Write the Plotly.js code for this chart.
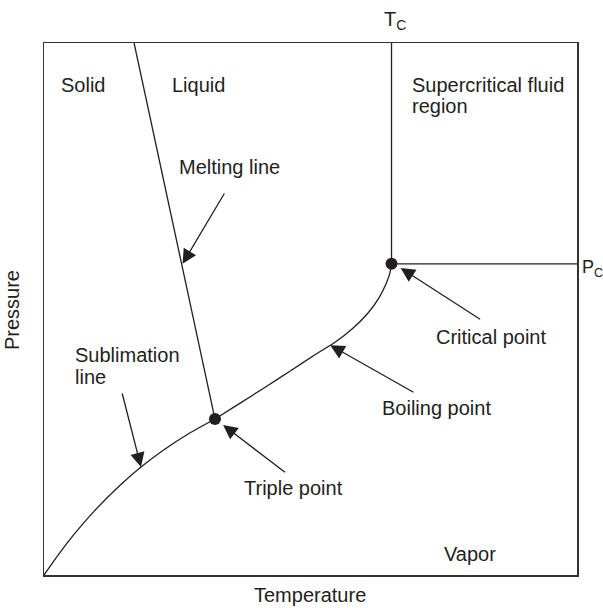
<!DOCTYPE html>
<html>
<head>
<meta charset="utf-8">
<script src="https://cdn.plot.ly/plotly-3.0.1.min.js"></script>
<style>html,body{margin:0;padding:0;background:#fff;}#chart{width:603px;height:608px;}</style>
</head>
<body>
<div id="chart"></div>
<script>
// Phase diagram values (arbitrary units, 0-100 on each axis)
var sublimationT = [0, 2.81, 5.63, 9.38, 14.07, 18.2, 22.51, 27.2, 32.08];
var sublimationP = [0, 3.98, 7.63, 11.97, 16.69, 20.3, 23.55, 26.6, 29.32];
var boilingT = [32.08, 36.8, 41.5, 46.2, 50.84, 54.6, 57.9, 60.79, 62.9, 64.2, 64.9, 65.2];
var boilingP = [29.32, 32.30, 35.30, 38.35, 41.40, 43.75, 46.35, 49.25, 52.2, 54.8, 56.8, 58.5];
var meltingT = [16.9, 32.08];
var meltingP = [100, 29.32];
var triplePoint = [32.08, 29.32];
var criticalPoint = [65.2, 58.5];
var axisMax = 100;

var FONT = 'Liberation Sans, Arial, Helvetica, sans-serif';
var ink = '#231f20';
var lineStyle = {color: ink, width: 1.3};

var traces = [
  {x: sublimationT, y: sublimationP, mode: 'lines', line: Object.assign({shape: 'spline', smoothing: 0.6}, lineStyle), hoverinfo: 'skip'},
  {x: boilingT, y: boilingP, mode: 'lines', line: Object.assign({shape: 'spline', smoothing: 0.4}, lineStyle), hoverinfo: 'skip'},
  {x: meltingT, y: meltingP, mode: 'lines', line: lineStyle, hoverinfo: 'skip'},
  {x: [criticalPoint[0], criticalPoint[0]], y: [criticalPoint[1], axisMax], mode: 'lines', line: lineStyle, hoverinfo: 'skip'},
  {x: [criticalPoint[0], axisMax], y: [criticalPoint[1], criticalPoint[1]], mode: 'lines', line: lineStyle, hoverinfo: 'skip'},
  {x: [triplePoint[0], criticalPoint[0]], y: [triplePoint[1], criticalPoint[1]], mode: 'markers', marker: {color: ink, size: 12}, hoverinfo: 'skip'}
];

function label(text, x, y, opts) {
  return Object.assign({text: text, x: x, y: y, xref: 'x', yref: 'y', showarrow: false,
    xanchor: 'center', yanchor: 'middle',
    font: {family: FONT, size: 20, color: ink}}, opts || {});
}
function arrow(tipX, tipY, tailX, tailY) {
  return {x: tipX, y: tipY, ax: tailX, ay: tailY, xref: 'x', yref: 'y', axref: 'x', ayref: 'y',
    text: '', showarrow: true, arrowhead: 2, arrowsize: 2.2, arrowwidth: 1.3, arrowcolor: ink, standoff: 0, startstandoff: 0};
}

var annotations = [
  label('Solid', 7.3, 92.1),
  label('Liquid', 28.9, 92.1),
  label('Supercritical fluid', 68.6, 92.1, {xanchor: 'left'}),
  label('region', 68.6, 88.2, {xanchor: 'left'}),
  label('Vapor', 79.9, 4.0),
  label('Melting line', 34.8, 76.6),
  label('Sublimation', 5.4, 41.3, {xanchor: 'left'}),
  label('line', 5.4, 37.3, {xanchor: 'left'}),
  label('Triple point', 37.1, 16.4, {xanchor: 'left'}),
  label('Boiling point', 73.7, 31.4),
  label('Critical point', 83.8, 44.8),
  label('T<sub>C</sub>', criticalPoint[0] + 0.6, 1.042, {yref: 'paper'}),
  label('P<sub>C</sub>', 1.007, criticalPoint[1] - 0.9, {xref: 'paper', xanchor: 'left', borderpad: 0, font: {family: FONT, size: 18, color: ink}}),
  label('Temperature', 0.499, -0.0376, {xref: 'paper', yref: 'paper'}),
  label('Pressure', -0.06, 0.498, {xref: 'paper', yref: 'paper', textangle: -90}),
  arrow(26.0, 58.5, 34.0, 72.0),
  arrow(18.2, 20.3, 14.6, 34.4),
  arrow(33.6, 28.2, 45.5, 19.1),
  arrow(53.7, 43.2, 69.6, 34.2),
  arrow(66.9, 57.7, 82.1, 47.9)
];

var axisBase = {range: [0, axisMax], showgrid: false, zeroline: false, showticklabels: false, ticks: '',
  showline: true, mirror: true, linecolor: '#333', linewidth: 1.5, fixedrange: true};

var layout = {
  width: 603, height: 608,
  margin: {l: 44, r: 26, t: 43, b: 33, pad: 0},
  paper_bgcolor: '#fff', plot_bgcolor: '#fff',
  showlegend: false,
  xaxis: Object.assign({}, axisBase),
  yaxis: Object.assign({}, axisBase),
  annotations: annotations,
  font: {family: FONT, color: ink}
};

Plotly.newPlot('chart', traces, layout, {displayModeBar: false, staticPlot: true});
</script>
</body>
</html>
